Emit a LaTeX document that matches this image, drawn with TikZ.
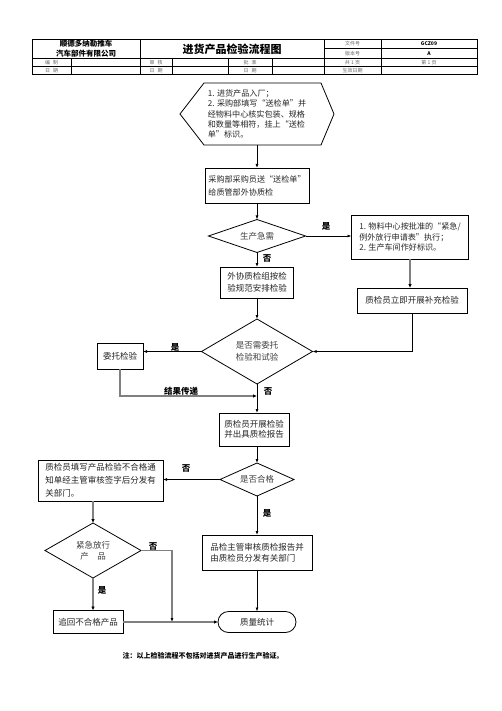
\documentclass[tikz,border=0pt]{standalone}
\usepackage{fontspec}
\setmainfont{Noto Sans CJK SC}
\usetikzlibrary{arrows.meta,shapes.geometric,calc}
\begin{document}
\begin{tikzpicture}[x=1pt,y=-1pt,
  every node/.style={inner sep=0pt,outer sep=0pt},
  bx/.style={draw,line width=0.8pt,text=black!85},
  dia/.style={draw,diamond,aspect=1.7,line width=0.8pt,text=black!75},
  fs/.style={font=\fontsize{8.5}{#1}\selectfont},
  fss/.style={font=\fontsize{8.1}{#1}\selectfont},
  lab/.style={font=\fontsize{8.5}{10}\selectfont\bfseries},
  hd/.style={font=\fontsize{5}{6}\selectfont,text=black!60},
  ar/.style={line width=0.8pt,-{Latex[length=4pt,width=3pt]}},
  gar/.style={line width=1.8pt,draw=gray,-{Latex[length=4pt,width=3.5pt,color=black]}},
  gthin/.style={line width=1.2pt,draw=gray,-{Latex[length=4pt,width=3pt,color=black]}},
]
\fill[white] (0,0) rectangle (502,711);
\useasboundingbox (0,0) rectangle (502,711);

% ---------- header table ----------
\draw[line width=0.7pt] (32,39.5) rectangle (477,74.5);
\draw[line width=0.5pt] (324,48.5) -- (477,48.5)
  (32,58.5) -- (477,58.5) (32,66.5) -- (477,66.5)
  (140,39.5) -- (140,74.5) (324,39.5) -- (324,74.5) (381,39.5) -- (381,74.5)
  (71,58.5) -- (71,74.5) (172,58.5) -- (172,74.5) (228,58.5) -- (228,74.5) (272,58.5) -- (272,74.5);
\node[font=\fontsize{7.5}{9.3}\selectfont\bfseries,align=center] (co) at (86,48.7) {顺德多纳勒推车\\汽车部件有限公司};
\node[font=\fontsize{11}{13}\selectfont\bfseries] (tt) at (232,49.5) {进货产品检验流程图};
\node[hd] (h1) at (352.5,44) {文件号};
\node[hd] (h2) at (352.5,53.5) {版本号};
\node[font=\fontsize{5}{6}\selectfont\bfseries] (h3) at (429,44) {GCZ09};
\node[font=\fontsize{5}{6}\selectfont\bfseries] (h4) at (429,53.5) {A};
\node[hd] (h5) at (51.5,62.5) {编\hspace{0.6em}制};
\node[hd] (h6) at (156,62.5) {审\hspace{0.6em}核};
\node[hd] (h7) at (250,62.5) {批\hspace{0.6em}准};
\node[hd] (h8) at (352.5,62.5) {共 1 页};
\node[hd] (h9) at (429,62.5) {第 1 页};
\node[hd] (h10) at (51.5,70.5) {日\hspace{0.6em}期};
\node[hd] (h11) at (156,70.5) {日\hspace{0.6em}期};
\node[hd] (h12) at (250,70.5) {日\hspace{0.6em}期};
\node[hd] (h13) at (352.5,70.5) {生效日期};

% ---------- nodes ----------
\node[minimum width=154,minimum height=62,align=left,fss=10.3,text=black!85] (hex) at (257,114)
  {1. 进货产品入厂；\\2. 采购部填写“送检单”并\\经物料中心核实包装、规格\\和数量等相符，挂上“送检\\单”标识。};
\draw[line width=0.8pt] ($(hex.north west)+(24,0)$) -- ($(hex.north east)+(-13,0)$) -- (hex.east)
  -- ($(hex.south east)+(-13,0)$) -- ($(hex.south west)+(24,0)$) -- (hex.west) -- cycle;

\node[bx,minimum width=104,minimum height=35,align=left,fss=13] (b1) at (257,185.5)
  {采购部采购员送“送检单”\\给质管部外协质检};
\node[dia,minimum width=97,minimum height=33,fs=10] (d1) at (257,236) {生产急需};
\node[bx,minimum width=117,minimum height=44,align=left,fss=10.5] (r1) at (410,237)
  {1. 物料中心按批准的“紧急/\\例外放行申请表”执行；\\2. 生产车间作好标识。};
\node[bx,minimum width=73,minimum height=31,align=center,fs=12] (b2) at (257,282.5)
  {外协质检组按检\\验规范安排检验};
\node[bx,minimum width=110,minimum height=25,fs=10] (r2) at (412,300.5) {质检员立即开展补充检验};
\node[dia,minimum width=111,minimum height=65,align=center,fs=12] (d2) at (257,351.5)
  {是否需委托\\检验和试验};
\node[bx,minimum width=46,minimum height=26,fs=10] (wt) at (120,356) {委托检验};
\node[bx,minimum width=70,minimum height=33,align=center,fs=9.8] (b3) at (254,429.5)
  {质检员开展检验\\并出具质检报告};
\node[dia,minimum width=74,minimum height=33,fs=10] (d3) at (257,479.5) {是否合格};
\node[bx,minimum width=125,minimum height=41,align=left,fs=13] (lf) at (100.5,480.5)
  {质检员填写产品检验不合格通\\知单经主管审核签字后分发有\\关部门。};
\node[dia,minimum width=96,minimum height=55,align=center,fs=11] (d4) at (93,550.5)
  {紧急放行\\产\hspace{1em}品};
\node[bx,minimum width=110,minimum height=35,align=left,fs=11] (b4) at (257,552.5)
  {品检主管审核质检报告并\\由质检员分发有关部门};
\node[bx,minimum width=70,minimum height=23,fs=10] (zh) at (88,622) {追回不合格产品};
\node[bx,rounded corners=10.5,minimum width=78,minimum height=21,fs=10] (st) at (257,622) {质量统计};

\coordinate (j1) at (257,396);
\coordinate (j2) at (172,622);

% ---------- connectors ----------
\draw[ar] (hex.south) -- (b1.north);
\draw[ar] (b1.south) -- (d1.north);
\draw[ar] (d1.east) -- (d1.east -| r1.west);
\draw[ar] (d1.south) -- (b2.north);
\draw[gar] (r1.south) -- (r1.south |- r2.north);
\draw[ar] (r2.south) |- (d2.east);
\draw[ar] (b2.south) -- (d2.north);
\draw[ar] (d2.west) -- (d2.west -| wt.east);
\draw[gar] (wt.south) |- (j1);
\draw[ar] (d2.south) -- (d2.south |- b3.north);
\draw[ar] (d3.north |- b3.south) -- (d3.north);
\draw[ar] (d3.west) -- (d3.west -| lf.east);
\draw[ar] (d3.south) -- (b4.north);
\draw[ar] (b4.south) -- (st.north);
\draw[gar] (d4.north |- lf.south) -- (d4.north);
\draw[gthin] (d4.east) -| (j2);
\draw[gar] (d4.south) -- (d4.south |- zh.north);
\draw[gar] (zh.east) -- (st.west);

% ---------- labels ----------
\node[lab] (l1) at (326,226) {是};
\node[lab] (l2) at (267,258) {否};
\node[lab] (l3) at (175,347) {是};
\node[lab] (l4) at (181,391) {结果传递};
\node[lab] (l5) at (268,391) {否};
\node[lab] (l6) at (186,468) {否};
\node[lab] (l7) at (267,513) {是};
\node[lab] (l8) at (153,546) {否};
\node[lab] (l9) at (102,590) {是};

\node[font=\fontsize{7}{8}\selectfont\bfseries] (note) at (203,656) {注：以上检验流程不包括对进货产品进行生产验证。};
\end{tikzpicture}
\end{document}
